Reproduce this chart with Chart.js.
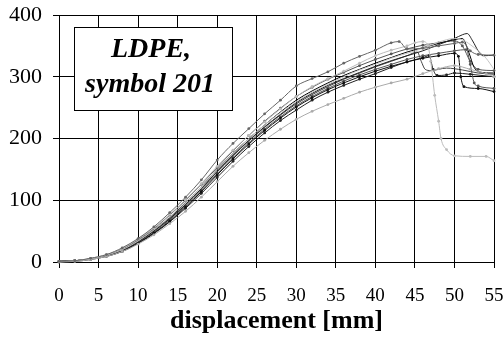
<!DOCTYPE html>
<html>
<head>
<meta charset="utf-8">
<script src="https://cdn.jsdelivr.net/npm/chart.js@4"></script>
<style>
  html, body { margin: 0; padding: 0; background: #fff; }
  #wrap { width: 504px; height: 338px; }
</style>
</head>
<body>
<div id="wrap"><canvas id="graphique" width="504" height="338"></canvas></div>
<script>
// rising part shared by all specimens (mm)
var xMontee = [0, 2, 4, 6, 8, 10, 12, 14, 16, 18, 20, 22, 24, 26, 28, 30, 32, 34, 36, 38, 40];

// each specimen: force values on the rising part, then its own tail
var yS1 = [1, 2, 6, 12, 23, 38, 57, 80, 105, 133, 165, 192, 216, 240, 262, 285, 297, 308, 322, 333, 343];
var xQueueS1 = [42, 43, 44, 46, 48, 50, 51, 52, 53, 55];
var yQueueS1 = [355, 357, 345, 346, 350, 354, 356, 342, 336, 335];

var yS2 = [1, 2, 6, 12, 22, 37, 55, 77, 101, 127, 155, 181, 205, 227, 248, 268, 284, 297, 309, 322, 334];
var xQueueS2 = [42, 44, 45, 46, 46.6, 47, 47.5, 48, 48.3, 49, 50, 52, 54, 55];
var yQueueS2 = [343, 350, 355, 357, 352, 325, 270, 228, 200, 182, 172, 171, 171, 164];

var yS3 = [0, 2, 5, 11, 20, 34, 52, 73, 97, 122, 150, 176, 200, 222, 242, 260, 275, 288, 300, 311, 320];
var xQueueS3 = [42, 44, 46, 48, 50, 51, 52, 53, 54, 55];
var yQueueS3 = [330, 338, 346, 356, 362, 360, 352, 342, 330, 312];

var yS4 = [0, 1, 4, 9, 17, 29, 44, 62, 82, 105, 130, 155, 177, 197, 215, 231, 244, 255, 265, 275, 283];
var xQueueS4 = [42, 44, 46, 48, 50, 52, 54, 55];
var yQueueS4 = [290, 296, 305, 313, 318, 312, 305, 300];

var yS5 = [1, 2, 5, 10, 19, 33, 50, 70, 93, 119, 147, 173, 197, 219, 239, 258, 273, 286, 297, 307, 317];
var xQueueS5 = [42, 44, 46, 48, 50, 51, 51.6, 52.3, 53, 53.6, 55];
var yQueueS5 = [326, 334, 342, 352, 362, 368, 370, 358, 342, 334, 335];

var yS6 = [1, 2, 5, 10, 18, 31, 47, 66, 89, 114, 141, 167, 191, 213, 233, 251, 266, 279, 290, 300, 309];
var xQueueS6 = [42, 44, 46, 48, 50, 50.5, 50.8, 51.2, 53, 55];
var yQueueS6 = [317, 324, 330, 334, 338, 333, 300, 284, 281, 276];

var yS7 = [1, 2, 5, 10, 19, 33, 50, 70, 93, 118, 146, 172, 196, 218, 238, 256, 271, 284, 296, 306, 316];
var xQueueS7 = [42, 44, 45.3, 45.8, 46.3, 47, 49, 51, 53, 55];
var yQueueS7 = [325, 334, 340, 325, 312, 310, 314, 311, 306, 304];

var yS8 = [0, 1, 4, 9, 17, 30, 46, 65, 87, 111, 137, 163, 187, 209, 229, 246, 262, 275, 286, 296, 305];
var xQueueS8 = [42, 44, 46, 46.8, 47.3, 47.8, 49, 50, 52, 55];
var yQueueS8 = [315, 324, 331, 334, 312, 302, 303, 306, 304, 300];

var yS9 = [1, 2, 5, 10, 18, 32, 48, 68, 91, 116, 143, 169, 193, 215, 235, 253, 268, 281, 293, 303, 312];
var xQueueS9 = [42, 44, 46, 48, 50, 51.5, 52, 52.5, 53, 55];
var yQueueS9 = [320, 328, 334, 338, 342, 344, 320, 290, 285, 281];

var yS10 = [1, 2, 5, 11, 20, 34, 52, 72, 96, 122, 150, 176, 200, 222, 243, 262, 277, 290, 302, 312, 322];
var xQueueS10 = [42, 44, 46, 48, 50, 51, 51.8, 52.5, 53.5, 55];
var yQueueS10 = [331, 340, 347, 354, 360, 362, 340, 315, 307, 306];

var yS11 = [1, 2, 5, 11, 21, 36, 54, 76, 100, 126, 153, 180, 205, 228, 249, 268, 283, 296, 307, 318, 328];
var xQueueS11 = [42, 44, 46, 48, 50, 51, 52, 53, 55];
var yQueueS11 = [337, 345, 351, 355, 358, 350, 325, 312, 310];

var graduationsX = [0, 5, 10, 15, 20, 25, 30, 35, 40, 45, 50, 55];
var graduationsY = [0, 100, 200, 300, 400];

var courbes = [
    { y: yS1, xq: xQueueS1, yq: yQueueS1, couleur: "#666666", points: true },
    { y: yS2, xq: xQueueS2, yq: yQueueS2, couleur: "#bbbbbb", points: true },
    { y: yS3, xq: xQueueS3, yq: yQueueS3, couleur: "#c4c4c4", points: false },
    { y: yS4, xq: xQueueS4, yq: yQueueS4, couleur: "#aaaaaa", points: true },
    { y: yS5, xq: xQueueS5, yq: yQueueS5, couleur: "#222222", points: false },
    { y: yS6, xq: xQueueS6, yq: yQueueS6, couleur: "#111111", points: true },
    { y: yS7, xq: xQueueS7, yq: yQueueS7, couleur: "#444444", points: false },
    { y: yS8, xq: xQueueS8, yq: yQueueS8, couleur: "#222222", points: true },
    { y: yS9, xq: xQueueS9, yq: yQueueS9, couleur: "#555555", points: true },
    { y: yS10, xq: xQueueS10, yq: yQueueS10, couleur: "#000000", points: false },
    { y: yS11, xq: xQueueS11, yq: yQueueS11, couleur: "#555555", points: true }
];

var datasets = [];
for (let i = 0; i < courbes.length; i++) {
    var c = courbes[i];
    var pts = [];
    for (let j = 0; j < xMontee.length; j++) {
        pts.push({ x: xMontee[j], y: c.y[j] });
    }
    for (let j = 0; j < c.xq.length; j++) {
        pts.push({ x: c.xq[j], y: c.yq[j] });
    }
    datasets.push({
        data: pts,
        borderColor: c.couleur,
        backgroundColor: c.couleur,
        borderWidth: 1,
        pointRadius: c.points ? 1.4 : 0,
        pointBorderWidth: 0,
        cubicInterpolationMode: "monotone",
        clip: 2
    });
}

// boite de texte "LDPE, symbol 201"
var boiteTitre = {
    id: "boiteTitre",
    afterDraw: function(chart) {
        var ctx = chart.ctx;
        ctx.save();
        ctx.fillStyle = "#ffffff";
        ctx.fillRect(74, 27, 158, 83);
        ctx.strokeStyle = "#000000";
        ctx.lineWidth = 1;
        ctx.strokeRect(74.5, 27.5, 158, 83);
        ctx.fillStyle = "#000000";
        ctx.font = "italic bold 28px 'Liberation Serif'";
        ctx.textAlign = "center";
        ctx.textBaseline = "alphabetic";
        ctx.fillText("LDPE,", 151, 57);
        ctx.fillText("symbol 201", 150, 92);
        ctx.restore();
    }
};

var ctx = document.getElementById("graphique").getContext("2d");
var chart = new Chart(ctx, {
    type: "line",
    data: { datasets: datasets },
    options: {
        responsive: false,
        animation: false,
        devicePixelRatio: 1,
        layout: { padding: { top: 15, right: 10, left: 0, bottom: 0 } },
        plugins: { legend: { display: false }, tooltip: { enabled: false } },
        scales: {
            x: {
                type: "linear",
                min: 0,
                max: 55,
                afterFit: function(scale) {
                    scale.height = 76;
                    scale.paddingLeft = 0;
                    scale.paddingRight = 0;
                },
                afterBuildTicks: function(scale) {
                    scale.ticks = graduationsX.map(function(v) { return { value: v }; });
                },
                grid: { color: "#000000", lineWidth: 1, tickLength: 6, drawTicks: true },
                border: { color: "#000000", width: 1 },
                ticks: {
                    color: "#000000",
                    font: { family: "'Liberation Serif'", size: 19 },
                    padding: 17,
                    maxRotation: 0,
                    autoSkip: false
                },
                title: {
                    display: true,
                    text: "displacement [mm]",
                    color: "#000000",
                    font: { family: "'Liberation Serif'", size: 26, weight: "bold" },
                    padding: { top: 0, bottom: 1 }
                }
            },
            y: {
                type: "linear",
                min: 0,
                max: 400,
                afterFit: function(scale) {
                    scale.width = 59;
                    scale.paddingTop = 0;
                    scale.paddingBottom = 0;
                },
                afterBuildTicks: function(scale) {
                    scale.ticks = graduationsY.map(function(v) { return { value: v }; });
                },
                grid: { color: "#000000", lineWidth: 1, tickLength: 6, drawTicks: true },
                border: { color: "#000000", width: 1 },
                ticks: {
                    color: "#000000",
                    font: { family: "'Liberation Serif'", size: 22 },
                    padding: 11
                }
            }
        }
    },
    plugins: [boiteTitre]
});
</script>
</body>
</html>
